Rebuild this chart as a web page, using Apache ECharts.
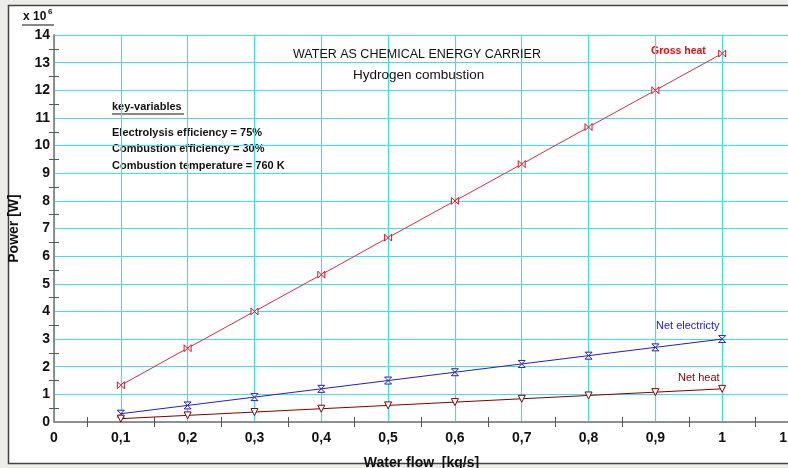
<!DOCTYPE html>
<html>
<head>
<meta charset="utf-8">
<style>
  html, body { margin: 0; padding: 0; background: #ecece8; }
  #main { width: 788px; height: 468px; }
</style>
<script src="https://cdn.jsdelivr.net/npm/echarts@6/dist/echarts.min.js"></script>
</head>
<body>
<div id="main"></div>
<script>
// water flow [kg/s]
var flow = [0.1, 0.2, 0.3, 0.4, 0.5, 0.6, 0.7, 0.8, 0.9, 1.0];
// power, x 10^6 W
var grossHeat = [1.33, 2.67, 4.0, 5.33, 6.67, 8.0, 9.33, 10.67, 12.0, 13.33];
var netElectricity = [0.3, 0.6, 0.9, 1.2, 1.5, 1.8, 2.1, 2.4, 2.7, 3.0];
var netHeat = [0.12, 0.24, 0.36, 0.48, 0.6, 0.72, 0.84, 0.96, 1.08, 1.2];
var keyVariables = [
  "Electrolysis efficiency = 75%",
  "Combustion efficiency = 30%",
  "Combustion temperature = 760 K"
];

var myChart = echarts.init(document.getElementById("main"));

function pairs(ys) {
  return flow.map(function(x, i) { return [x, ys[i]]; });
}

// half-step tick positions (ticks only, between grid lines)
var xHalfTicks = [], yHalfTicks = [];
for (var i = 0; i < 11; i++) xHalfTicks.push(+(0.05 + 0.1 * i).toFixed(2));
for (var j = 0; j < 14; j++) yHalfTicks.push(j + 0.5);

var bowtie = "path://M0,0 L0,10 L10,0 L10,10 Z";
var hourglass = "path://M0,0 L10,0 L0,10 L10,10 Z";
var triDown = "path://M0,0 L10,0 L5,9 Z";

var font = "Arial, 'Liberation Sans', sans-serif";
var gridColor = "#40e0e8";
var axisColor = "#8a8a8a";

// axis that only carries the short inner half-step ticks
// (negative length turns them toward the plot)
function tickAxis(ticks, max, pos) {
  return {
    type: "value", min: 0, max: max, position: pos,
    axisLine: { show: false },
    axisLabel: { show: false },
    splitLine: { show: false },
    axisTick: { show: true, inside: false, length: -5, customValues: ticks, lineStyle: { color: "#555" } }
  };
}

var frameLine = { show: true, lineStyle: { color: axisColor, width: 1.5 } };

var textLines = keyVariables.map(function(t, i) {
  return {
    type: "text", left: 112, top: 127 + i * 16.5,
    style: { text: t, font: "bold 11px " + font, fill: "#111" }
  };
});

myChart.setOption({
  animation: false,
  backgroundColor: "#ecece8",
  graphic: [
    {
      type: "rect", z: -10, silent: true,
      shape: { x: 8.5, y: 5.5, width: 800, height: 458 },
      style: { fill: "#ffffff", stroke: "#444", lineWidth: 1.5 }
    },
    {
      type: "text", left: 23, top: 11,
      style: { text: "x 10", font: "bold 12px " + font, fill: "#111" }
    },
    {
      type: "text", left: 48, top: 8,
      style: { text: "6", font: "bold 8px " + font, fill: "#111" }
    },
    {
      type: "line", shape: { x1: 22, y1: 25, x2: 54, y2: 25 },
      style: { stroke: "#111", lineWidth: 1 }
    },
    {
      type: "text", left: 293, top: 48, z: 10,
      style: { text: "WATER AS CHEMICAL ENERGY CARRIER", font: "12.5px " + font, fill: "#111" }
    },
    {
      type: "text", left: 353, top: 68, z: 10,
      style: { text: "Hydrogen combustion", font: "13.5px " + font, fill: "#111" }
    },
    {
      type: "text", left: 112, top: 101,
      style: { text: "key-variables", font: "bold 11px " + font, fill: "#111" }
    },
    {
      type: "line", shape: { x1: 112, y1: 114, x2: 184, y2: 114 },
      style: { stroke: "#111", lineWidth: 1 }
    }
  ].concat(textLines).concat([
    {
      type: "text", left: 651, top: 46,
      style: { text: "Gross heat", font: "bold 10.5px " + font, fill: "#e01010" }
    },
    {
      type: "text", left: 656, top: 320,
      style: { text: "Net electricty", font: "11px " + font, fill: "#1a1ad0" }
    },
    {
      type: "text", left: 678, top: 372,
      style: { text: "Net heat", font: "11px " + font, fill: "#8b0000" }
    }
  ]),
  grid: { left: 54, top: 35, right: -1, bottom: 46, containLabel: false, outerBoundsMode: "none" },
  xAxis: [
    {
      type: "value", min: 0, max: 1.1, interval: 0.1,
      axisLine: frameLine, axisTick: { show: false },
      name: "Water flow  [kg/s]", nameLocation: "middle", nameGap: 34,
      nameTextStyle: { fontFamily: font, fontWeight: "bold", fontSize: 14, color: "#111" },
      axisLabel: {
        fontFamily: font, fontWeight: "bold", fontSize: 14, color: "#111", margin: 9,
        showMaxLabel: true, hideOverlap: false,
        formatter: function(v) { return String(+v.toFixed(2)).replace(".", ","); }
      },
      splitLine: { show: true, lineStyle: { color: gridColor, width: 1.2 } }
    },
    {
      type: "value", min: 0, max: 1.1, interval: 0.1, position: "top",
      axisLine: frameLine, axisTick: { show: false }, axisLabel: { show: false }, splitLine: { show: false }
    },
    tickAxis(xHalfTicks, 1.1, "bottom"),
    tickAxis(xHalfTicks, 1.1, "top")
  ],
  yAxis: [
    {
      type: "value", min: 0, max: 14, interval: 1,
      axisLine: frameLine, axisTick: { show: false },
      name: "Power [W]", nameLocation: "middle", nameGap: 33, nameRotate: 90,
      nameTextStyle: { fontFamily: font, fontWeight: "bold", fontSize: 14, color: "#111" },
      axisLabel: { fontFamily: font, fontWeight: "bold", fontSize: 14, color: "#111", margin: 4 },
      splitLine: { show: true, lineStyle: { color: gridColor, width: 1.2 } }
    },
    {
      type: "value", min: 0, max: 14, interval: 1, position: "right",
      axisLine: frameLine, axisTick: { show: false }, axisLabel: { show: false }, splitLine: { show: false }
    },
    tickAxis(yHalfTicks, 14, "left"),
    tickAxis(yHalfTicks, 14, "right")
  ],
  series: [
    {
      name: "Gross heat", type: "line", data: pairs(grossHeat),
      symbol: bowtie, symbolSize: 7,
      lineStyle: { color: "#d03040", width: 1 },
      itemStyle: { color: "#ffffff", borderColor: "#e01020", borderWidth: 1 }
    },
    {
      name: "Net electricity", type: "line", data: pairs(netElectricity),
      symbol: hourglass, symbolSize: 7,
      lineStyle: { color: "#2020c0", width: 1 },
      itemStyle: { color: "#ffffff", borderColor: "#2020c0", borderWidth: 1 }
    },
    {
      name: "Net heat", type: "line", data: pairs(netHeat),
      symbol: triDown, symbolSize: 7,
      lineStyle: { color: "#800000", width: 1 },
      itemStyle: { color: "#ffffff", borderColor: "#800000", borderWidth: 1 }
    }
  ]
});
</script>
</body>
</html>
